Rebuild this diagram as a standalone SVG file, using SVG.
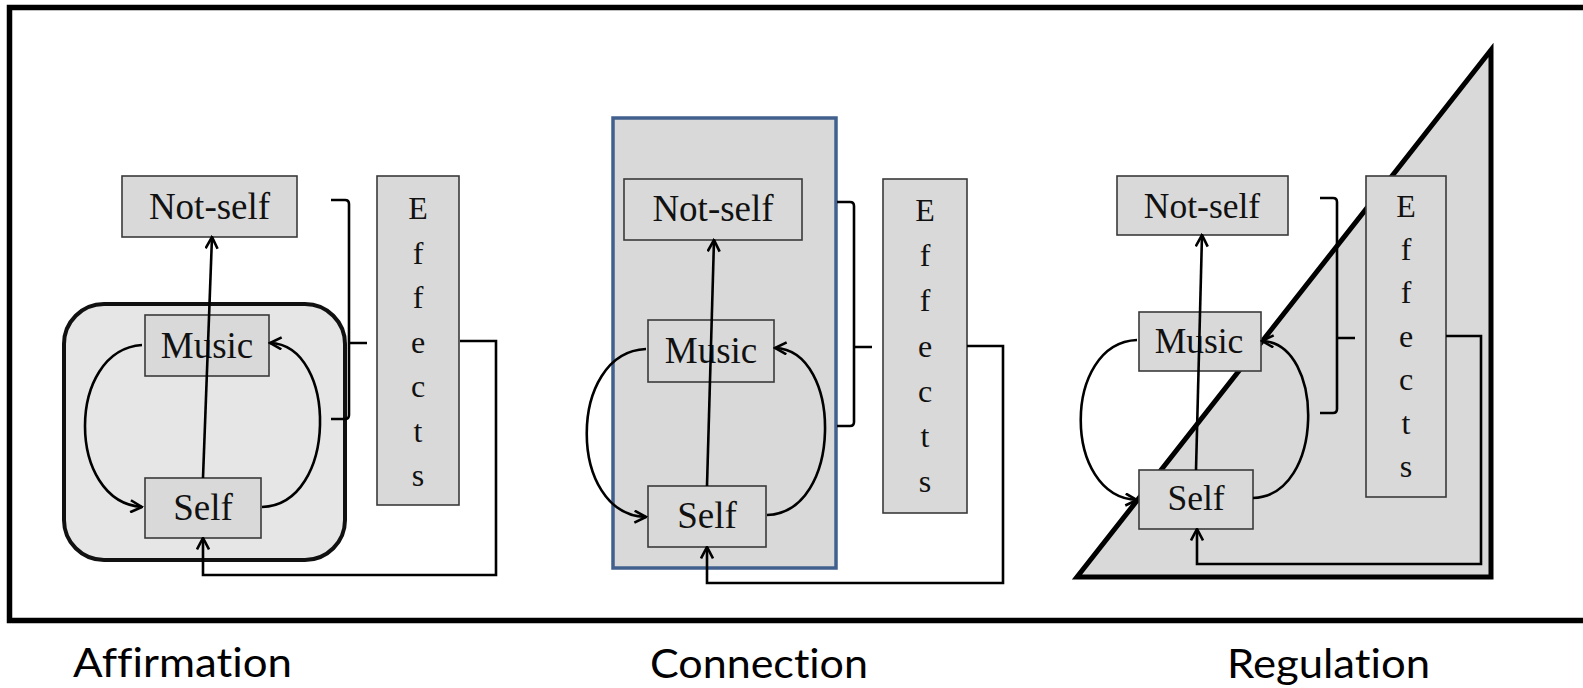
<svg xmlns="http://www.w3.org/2000/svg" width="1583" height="688" viewBox="0 0 1583 688">
<style>
.box{fill:#d9d9d9;stroke:#3a3a3a;stroke-width:1.6}
.t{font-family:"Liberation Serif","Times New Roman",serif;font-size:37px;fill:#111;text-anchor:middle}
.t3{font-family:"Liberation Serif","Times New Roman",serif;font-size:35.5px;fill:#111;text-anchor:middle}
.e{font-family:"Liberation Serif","Times New Roman",serif;font-size:32px;fill:#111;text-anchor:middle}
.c{fill:none;stroke:#000;stroke-width:2.6}
.a{fill:none;stroke:#000;stroke-width:2.6;marker-end:url(#arr)}
.lab{font-family:Lato,"Open Sans",sans-serif;font-size:40px;fill:#000;font-variant-ligatures:none;font-feature-settings:"liga" 0,"dlig" 0}
</style>
<defs>
<marker id="arr" viewBox="0 0 14 14" refX="12.5" refY="7" markerWidth="14" markerHeight="14" markerUnits="userSpaceOnUse" orient="auto">
<path d="M1,1 L12.5,7 L1,13" fill="none" stroke="#000" stroke-width="2.6"/>
</marker>
</defs>
<rect width="1583" height="688" fill="#fff"/>
<g id="frame">
<rect x="9.5" y="7.5" width="1582" height="613" fill="none" stroke="#000" stroke-width="5.5"/>
</g>
<g id="backgrounds">
<rect id="affirmation-area" x="64" y="304" width="281" height="256" rx="40" ry="40" fill="#e6e6e6" stroke="#111" stroke-width="4"/>
<rect id="connection-area" x="613" y="118" width="223" height="450" fill="#d9d9d9" stroke="#41608e" stroke-width="3.5"/>
<polygon id="regulation-area" points="1491,50 1491,577 1077,577" fill="#d9d9d9" stroke="#000" stroke-width="5" stroke-linejoin="miter" stroke-miterlimit="6"/>
</g>
<g id="p1-notself"><rect class="box" x="122" y="176" width="175" height="61"/><text class="t" x="209.5" y="219">Not-self</text></g>
<g id="p1-music"><rect class="box" x="145" y="315" width="124" height="61"/><text class="t" x="207" y="358">Music</text></g>
<g id="p1-self"><rect class="box" x="145" y="478" width="116" height="60"/><text class="t" x="203" y="520">Self</text></g>
<g id="p1-effects"><rect class="box" x="377" y="176" width="82" height="329"/>
<text class="e" x="418" y="219">E</text><text class="e" x="418" y="264">f</text><text class="e" x="418" y="308">f</text><text class="e" x="418" y="353">e</text><text class="e" x="418" y="397">c</text><text class="e" x="418" y="442">t</text><text class="e" x="418" y="486">s</text></g>
<g id="p2-notself"><rect class="box" x="624" y="179" width="178" height="61"/><text class="t" x="713" y="221">Not-self</text></g>
<g id="p2-music"><rect class="box" x="648" y="320" width="126" height="62"/><text class="t" x="711" y="363">Music</text></g>
<g id="p2-self"><rect class="box" x="648" y="486" width="118" height="61"/><text class="t" x="707" y="528">Self</text></g>
<g id="p2-effects"><rect class="box" x="883" y="179" width="84" height="334"/>
<text class="e" x="925" y="221">E</text><text class="e" x="925" y="266">f</text><text class="e" x="925" y="311">f</text><text class="e" x="925" y="357">e</text><text class="e" x="925" y="402">c</text><text class="e" x="925" y="447">t</text><text class="e" x="925" y="492">s</text></g>
<g id="p3-notself"><rect class="box" x="1117" y="176" width="171" height="59"/><text class="t3" x="1202" y="218">Not-self</text></g>
<g id="p3-music"><rect class="box" x="1139" y="312" width="122" height="59"/><text class="t3" x="1199" y="353">Music</text></g>
<g id="p3-self"><rect class="box" x="1139" y="470" width="114" height="59"/><text class="t3" x="1196" y="510">Self</text></g>
<g id="p3-effects"><rect class="box" x="1366" y="176" width="80" height="321"/>
<text class="e" x="1406" y="217">E</text><text class="e" x="1406" y="260">f</text><text class="e" x="1406" y="303">f</text><text class="e" x="1406" y="347">e</text><text class="e" x="1406" y="390">c</text><text class="e" x="1406" y="434">t</text><text class="e" x="1406" y="477">s</text></g>
<g id="connectors">
<path class="a" d="M203,478 L212,237"/>
<path class="a" d="M142,345 C66,350 66,502 142,507"/>
<path class="a" d="M262,507 C338,505 338,345 270,343"/>
<path class="c" d="M331,200 L345,200 Q349,200 349,204 L349,415 Q349,419 345,419 L331,419 M349,343 L367,343"/>
<path class="a" d="M460,341 L496,341 L496,575 L203,575 L203,538"/>
<path class="a" d="M707,486 L714,240"/>
<path class="a" d="M646,349 C567,352 567,515 646,517"/>
<path class="a" d="M767,515 C843,513 843,350 775,348"/>
<path class="c" d="M837,202 L850,202 Q854,202 854,206 L854,422 Q854,426 850,426 L837,426 M854,347 L872,347"/>
<path class="a" d="M967,346 L1003,346 L1003,583 L707,583 L707,547"/>
<path class="a" d="M1196,470 L1202,235"/>
<path class="a" d="M1137,340 C1062,343 1062,497 1137,500"/>
<path class="a" d="M1253,498 C1325,496 1325,343 1262,341"/>
<path class="c" d="M1320,198 L1333,198 Q1337,198 1337,202 L1337,409 Q1337,413 1333,413 L1320,413 M1337,338 L1355,338"/>
<path class="a" d="M1446,336 L1481,336 L1481,564 L1197,564 L1197,529"/>
</g>
<g id="labels">
<text class="lab" x="73" y="677" textLength="219" lengthAdjust="spacingAndGlyphs">Affirmation</text>
<text class="lab" x="650" y="678" textLength="218" lengthAdjust="spacingAndGlyphs">Connection</text>
<text class="lab" x="1227" y="678" textLength="203" lengthAdjust="spacingAndGlyphs">Regulation</text>
</g>
</svg>
